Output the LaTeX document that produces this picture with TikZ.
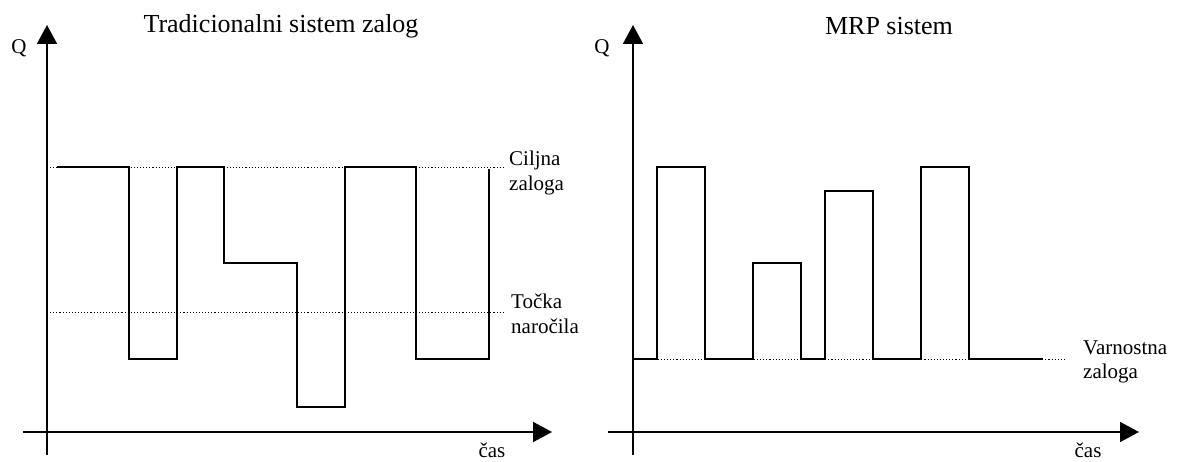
\documentclass[tikz,border=0pt]{standalone}
\usepackage{fontspec}
\setmainfont{Liberation Serif}
\usetikzlibrary{arrows.meta}
\begin{document}
\begin{tikzpicture}[x=1pt,y=-1pt,
  axis/.style={line width=1.8pt,-{Triangle[length=19pt,width=20pt]}},
  stock/.style={line width=2.4pt,line join=miter},
  level/.style={line width=0.9pt,dash pattern=on 1.1pt off 2pt},
  lbl/.style={font=\fontsize{21}{25}\selectfont,inner sep=0pt},
  lbll/.style={lbl,anchor=west},
  ttl/.style={font=\fontsize{26}{30}\selectfont,inner sep=0pt}]
\useasboundingbox (0,0) rectangle (1179,462);
% ---------- left panel ----------
\coordinate (ly0) at (47,455); \coordinate (ly1) at (47,25);
\coordinate (lx0) at (23,432); \coordinate (lx1) at (552,432);
\draw[level] (47,167) -- (503,167);
\draw[level] (47,312) -- (503,312);
\draw[axis] (ly0) -- (ly1);
\draw[axis] (lx0) -- (lx1);
\draw[stock] (57,167) -- (129,167) -- (129,359) -- (177,359) -- (177,167)
  -- (224,167) -- (224,263) -- (297,263) -- (297,407) -- (345,407)
  -- (345,167) -- (416,167) -- (416,359) -- (489,359) -- (489,169);
\node[ttl] (t1) at (281,26) {Tradicionalni sistem zalog};
\node[lbl] (q1) at (19,48) {Q};
\node[lbl] (c1) at (492,450) {čas};
\node[lbll] (cl1) at (509,160) {Ciljna};
\node[lbll] (cl2) at (509,185) {zaloga};
\node[lbll] (tn1) at (511,301) {Točka};
\node[lbll] (tn2) at (511,326) {naročila};
% ---------- right panel ----------
\coordinate (ry0) at (633,455); \coordinate (ry1) at (633,25);
\coordinate (rx0) at (608,432); \coordinate (rx1) at (1139,432);
\draw[level] (633,359) -- (1064,359);
\draw[axis] (ry0) -- (ry1);
\draw[axis] (rx0) -- (rx1);
\draw[stock] (633,359) -- (657,359) -- (657,167) -- (705,167) -- (705,359)
  -- (753,359) -- (753,263) -- (801,263) -- (801,359) -- (825,359)
  -- (825,191) -- (873,191) -- (873,359) -- (921,359) -- (921,167)
  -- (969,167) -- (969,359) -- (1043,359);
\node[ttl] (t2) at (889,26) {MRP sistem};
\node[lbl] (q2) at (602,48) {Q};
\node[lbl] (c2) at (1088,450) {čas};
\node[lbll] (v1) at (1083,348) {Varnostna};
\node[lbll] (v2) at (1083,373) {zaloga};
\end{tikzpicture}
\end{document}
